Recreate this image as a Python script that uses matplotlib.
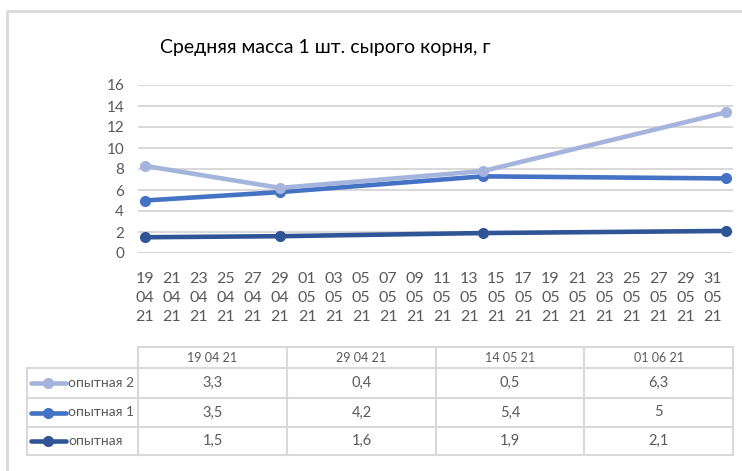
import matplotlib
matplotlib.use('Agg')
import matplotlib.pyplot as plt
import matplotlib.dates as mdates
import numpy as np
import pandas as pd

plt.rcParams['font.family'] = ['Lato', 'Open Sans', 'DejaVu Sans']

# Data (stacked line chart, values as in the data table)
dates = pd.to_datetime(['2021-04-19', '2021-04-29', '2021-05-14', '2021-06-01'])
date_labels = ['19 04 21', '29 04 21', '14 05 21', '01 06 21']
series_names = ['опытная', 'опытная 1', 'опытная 2']
opytnaya = [1.5, 1.6, 1.9, 2.1]
opytnaya_1 = [3.5, 4.2, 5.4, 5]
opytnaya_2 = [3.3, 0.4, 0.5, 6.3]
colors = ['#2F5597', '#4472C4', '#A5B4DC']
title = 'Средняя масса 1 шт. сырого корня, г'

W, H = 742, 471
fig = plt.figure(figsize=(W / 100, H / 100), dpi=100)

# overlay axes in pixel coordinates for frame, title and table
ov = fig.add_axes([0, 0, 1, 1])
ov.set_xlim(0, W)
ov.set_ylim(H, 0)
ov.axis('off')
grey = '#D9D9D9'
ov.plot([7, 7, W], [H, 10.5, 10.5], color=grey, lw=2, solid_capstyle='butt')
ov.text(160, 47, title, fontsize=14, color='black', ha='left', va='center')

# main plot
ax = fig.add_axes([138 / W, (H - 253) / H, 595 / W, 168 / H])
x = mdates.date2num(dates)
stack = np.cumsum([opytnaya, opytnaya_1, opytnaya_2], axis=0)
for vals, col in zip(stack, colors):
    ax.plot(x, vals, color=col, lw=3.3, marker='o', markersize=7,
            solid_capstyle='round')

ax.set_xlim(x[0] - 0.5, x[-1] + 0.5)
ax.set_ylim(0, 16)
ax.set_yticks(np.arange(0, 17, 2))
ax.yaxis.grid(True, color=grey, lw=1.5)
ax.set_axisbelow(True)
for s in ax.spines.values():
    s.set_visible(False)
ticks = pd.date_range('2021-04-19', '2021-05-31', freq='2D')
ax.set_xticks(mdates.date2num(ticks))
ax.set_xticklabels([d.strftime('%d\n%m\n%y') for d in ticks], linespacing=1.42)
ax.tick_params(axis='both', length=0, labelcolor='#595959')
ax.tick_params(axis='x', pad=14, labelsize=11.5)
ax.tick_params(axis='y', pad=10, labelsize=11)

# data table
col_x = [138, 287, 436, 584, 733]
row_y = [347, 368, 398, 427, 455]
left_x = 27
ov.plot([col_x[0], col_x[-1]], [row_y[0], row_y[0]], color=grey, lw=1.5)
for yy in row_y[1:]:
    ov.plot([left_x, col_x[-1]], [yy, yy], color=grey, lw=1.5)
for xx in col_x:
    ov.plot([xx, xx], [row_y[0], row_y[-1]], color=grey, lw=1.5)
ov.plot([left_x, left_x], [row_y[1], row_y[-1]], color=grey, lw=1.5)

for j, lab in enumerate(date_labels):
    cx = (col_x[j] + col_x[j + 1]) / 2
    ov.text(cx, (row_y[0] + row_y[1]) / 2, lab, fontsize=9, color='#595959',
            ha='center', va='center')

rows = [('опытная 2', opytnaya_2, colors[2]),
        ('опытная 1', opytnaya_1, colors[1]),
        ('опытная', opytnaya, colors[0])]
for i, (name, vals, col) in enumerate(rows):
    cy = (row_y[i + 1] + row_y[i + 2]) / 2
    ov.plot([31, 66], [cy, cy], color=col, lw=3.3, solid_capstyle='round')
    ov.plot([48], [cy], marker='o', color=col, markersize=7)
    ov.text(68, cy, name, fontsize=10, color='#595959', ha='left', va='center')
    for j, v in enumerate(vals):
        cx = (col_x[j] + col_x[j + 1]) / 2
        txt = ('%g' % v).replace('.', ',')
        ov.text(cx, cy, txt, fontsize=10.5, color='#595959',
                ha='center', va='center')

fig.savefig('out.png', dpi=100)
